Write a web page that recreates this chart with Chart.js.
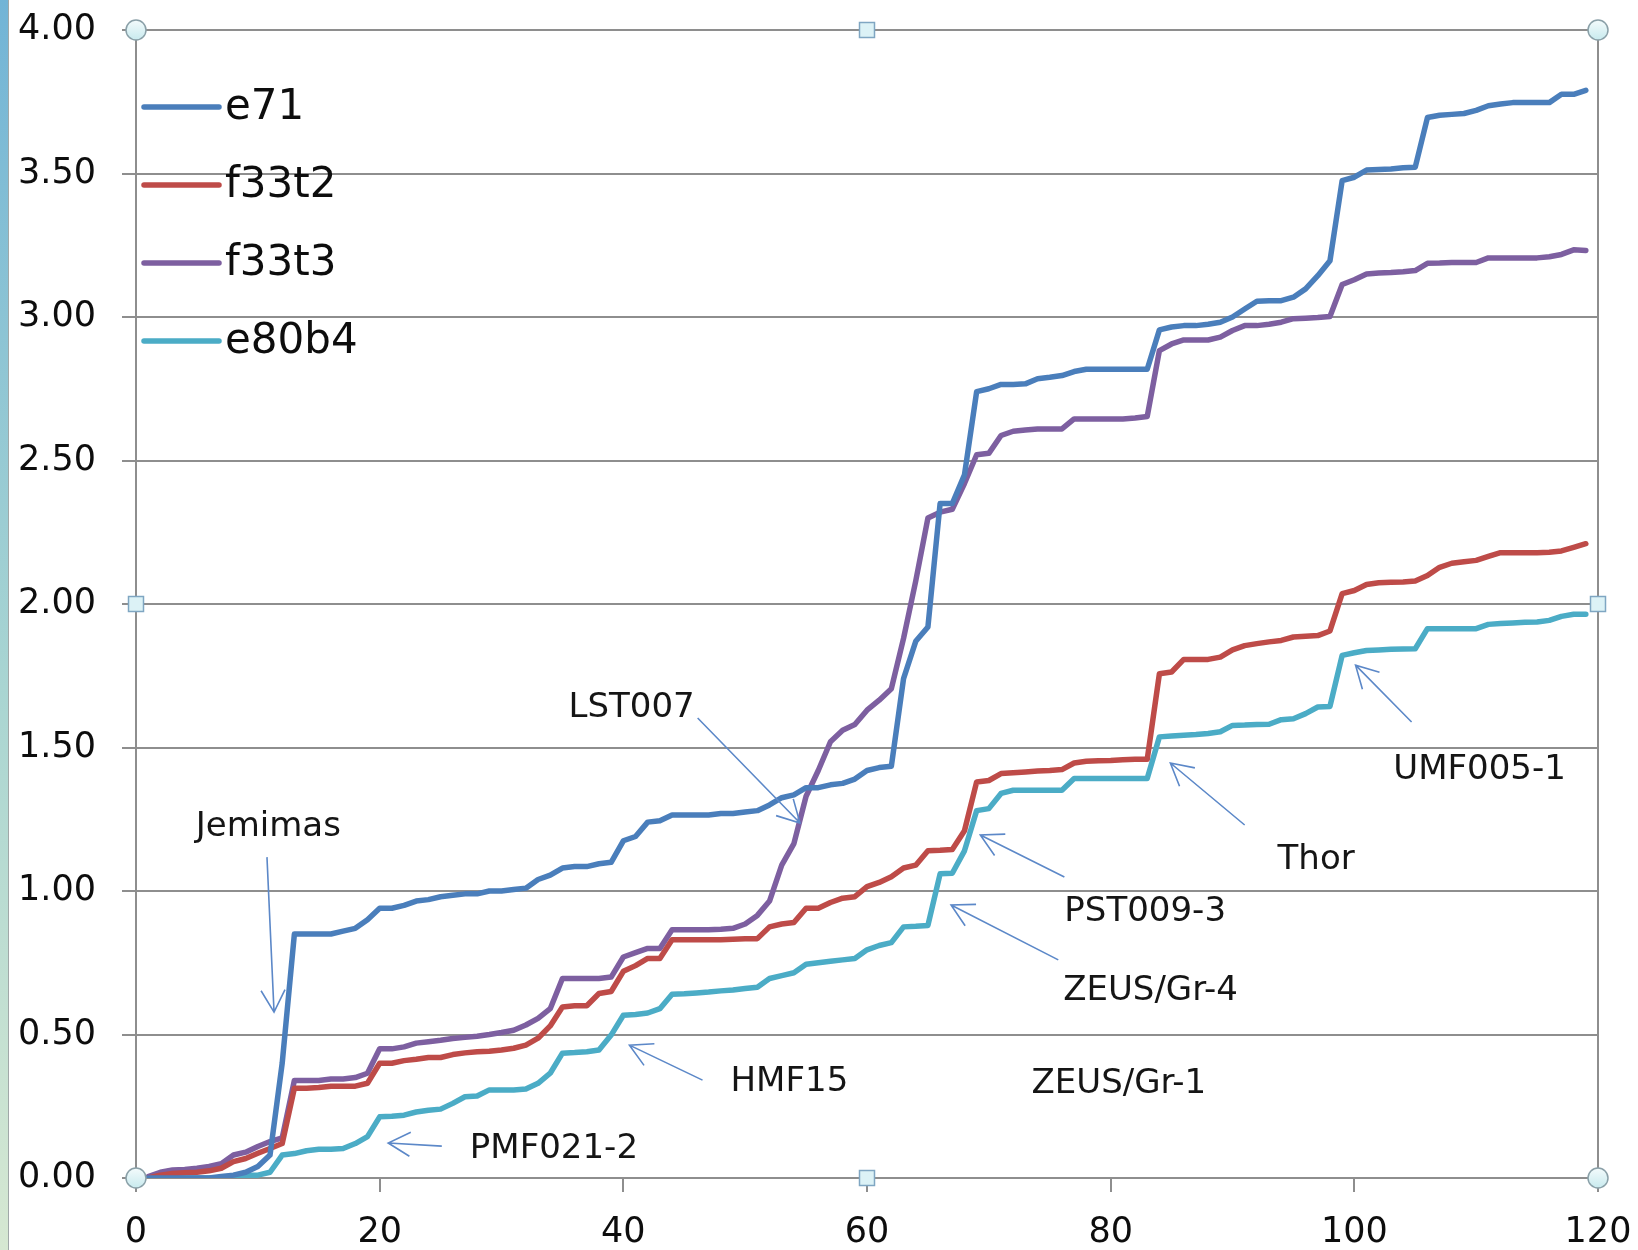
<!DOCTYPE html>
<html>
<head>
<meta charset="utf-8">
<script src="https://cdn.jsdelivr.net/npm/chart.js@4.4.1/dist/chart.umd.min.js"></script>
<style>
    body { margin: 0; background: #fff; }
    .edge {
        position: absolute; left: 0; top: 0; width: 8px; height: 1250px;
        background: linear-gradient(#72b4d6, #a9d5d2 55%, #d6e8d2);
        border-right: 1px solid #a0a8a8;
    }
    #chart { position: absolute; left: 0; top: 0; }
</style>
</head>
<body>
<div class="edge"></div>
<canvas id="chart" width="1638" height="1250"></canvas>
<script>
// --- Données ---
const xSteps = [
    1, 2, 3, 4, 5, 6, 7, 8, 9, 10, 11, 12, 13, 14, 15, 16, 17, 18, 19, 20,
    21, 22, 23, 24, 25, 26, 27, 28, 29, 30, 31, 32, 33, 34, 35, 36, 37, 38, 39, 40,
    41, 42, 43, 44, 45, 46, 47, 48, 49, 50, 51, 52, 53, 54, 55, 56, 57, 58, 59, 60,
    61, 62, 63, 64, 65, 66, 67, 68, 69, 70, 71, 72, 73, 74, 75, 76, 77, 78, 79, 80,
    81, 82, 83, 84, 85, 86, 87, 88, 89, 90, 91, 92, 93, 94, 95, 96, 97, 98, 99, 100,
    101, 102, 103, 104, 105, 106, 107, 108, 109, 110, 111, 112, 113, 114, 115, 116, 117, 118, 119
];

const e71 = [
    0.00, 0.00, 0.00, 0.00, 0.00, 0.00, 0.005, 0.01, 0.02, 0.04, 0.08, 0.40, 0.85, 0.85, 0.85, 0.85, 0.86, 0.87, 0.90, 0.94,
    0.94, 0.95, 0.965, 0.97, 0.98, 0.985, 0.99, 0.99, 1.00, 1.00, 1.005, 1.01, 1.04, 1.055, 1.08, 1.085, 1.085, 1.095, 1.10, 1.175,
    1.19, 1.24, 1.245, 1.265, 1.265, 1.265, 1.265, 1.27, 1.27, 1.275, 1.28, 1.30, 1.325, 1.335, 1.36, 1.36, 1.37, 1.375, 1.39, 1.42,
    1.43, 1.435, 1.74, 1.87, 1.92, 2.35, 2.35, 2.45, 2.74, 2.75, 2.765, 2.765, 2.767, 2.785, 2.79, 2.796, 2.81, 2.818, 2.818, 2.818,
    2.818, 2.818, 2.818, 2.955, 2.965, 2.97, 2.97, 2.975, 2.982, 3.00, 3.028, 3.055, 3.057, 3.057, 3.069, 3.098, 3.144, 3.196, 3.475, 3.487,
    3.512, 3.514, 3.516, 3.52, 3.522, 3.695, 3.703, 3.706, 3.709, 3.72, 3.736, 3.742, 3.747, 3.747, 3.747, 3.747, 3.776, 3.776, 3.79
];

const f33t2 = [
    0.00, 0.01, 0.016, 0.018, 0.02, 0.025, 0.034, 0.057, 0.068, 0.086, 0.103, 0.12, 0.313, 0.313, 0.315, 0.32, 0.32, 0.32, 0.33, 0.40,
    0.40, 0.409, 0.414, 0.42, 0.42, 0.43, 0.436, 0.44, 0.442, 0.446, 0.452, 0.463, 0.487, 0.53, 0.596, 0.60, 0.60, 0.643, 0.65, 0.72,
    0.74, 0.765, 0.765, 0.83, 0.83, 0.83, 0.83, 0.83, 0.832, 0.834, 0.834, 0.875, 0.885, 0.89, 0.94, 0.94, 0.96, 0.975, 0.98, 1.015,
    1.03, 1.05, 1.08, 1.09, 1.14, 1.142, 1.145, 1.21, 1.38, 1.385, 1.409, 1.412, 1.415, 1.418, 1.42, 1.423, 1.446, 1.452, 1.454, 1.455,
    1.457, 1.459, 1.459, 1.757, 1.763, 1.807, 1.807, 1.807, 1.815, 1.84, 1.855, 1.862, 1.868, 1.873, 1.885, 1.888, 1.89, 1.906, 2.036, 2.047,
    2.068, 2.074, 2.076, 2.077, 2.08, 2.099, 2.128, 2.142, 2.147, 2.152, 2.166, 2.179, 2.179, 2.179, 2.179, 2.18, 2.185, 2.197, 2.21
];

const f33t3 = [
    0.005, 0.02, 0.028, 0.03, 0.034, 0.04, 0.05, 0.08, 0.09, 0.11, 0.127, 0.14, 0.34, 0.34, 0.34, 0.345, 0.345, 0.35, 0.365, 0.45,
    0.45, 0.457, 0.47, 0.475, 0.48, 0.486, 0.49, 0.494, 0.50, 0.507, 0.515, 0.533, 0.556, 0.59, 0.695, 0.695, 0.695, 0.695, 0.70, 0.77,
    0.785, 0.80, 0.80, 0.865, 0.865, 0.865, 0.865, 0.867, 0.87, 0.885, 0.915, 0.965, 1.09, 1.165, 1.33, 1.42, 1.52, 1.56, 1.58, 1.63,
    1.665, 1.705, 1.88, 2.08, 2.30, 2.32, 2.33, 2.42, 2.52, 2.525, 2.587, 2.602, 2.606, 2.61, 2.61, 2.61, 2.645, 2.645, 2.645, 2.645,
    2.645, 2.648, 2.653, 2.883, 2.906, 2.92, 2.92, 2.92, 2.93, 2.953, 2.97, 2.97, 2.975, 2.982, 2.994, 2.996, 2.998, 3.002, 3.113, 3.13,
    3.15, 3.153, 3.155, 3.158, 3.162, 3.187, 3.188, 3.19, 3.19, 3.19, 3.206, 3.206, 3.206, 3.206, 3.206, 3.21, 3.218, 3.234, 3.232
];

const e80b4 = [
    0.00, 0.00, 0.00, 0.00, 0.00, 0.00, 0.00, 0.005, 0.01, 0.01, 0.02, 0.08, 0.085, 0.095, 0.10, 0.10, 0.103, 0.12, 0.144, 0.213,
    0.215, 0.219, 0.23, 0.236, 0.24, 0.26, 0.283, 0.286, 0.307, 0.307, 0.307, 0.31, 0.33, 0.365, 0.435, 0.437, 0.44, 0.446, 0.498, 0.567,
    0.57, 0.575, 0.59, 0.64, 0.642, 0.645, 0.648, 0.652, 0.655, 0.66, 0.665, 0.695, 0.705, 0.715, 0.745, 0.75, 0.755, 0.76, 0.765, 0.795,
    0.81, 0.82, 0.875, 0.877, 0.88, 1.06, 1.062, 1.14, 1.28, 1.287, 1.34, 1.351, 1.351, 1.351, 1.351, 1.351, 1.392, 1.392, 1.392, 1.392,
    1.392, 1.392, 1.392, 1.537, 1.54, 1.543, 1.545, 1.549, 1.555, 1.577, 1.578, 1.58, 1.581, 1.597, 1.60, 1.618, 1.641, 1.643, 1.821, 1.83,
    1.838, 1.84, 1.842, 1.843, 1.844, 1.914, 1.914, 1.914, 1.914, 1.914, 1.929, 1.932, 1.934, 1.936, 1.937, 1.943, 1.957, 1.964, 1.964
];

const seriesNames = ['e71', 'f33t2', 'f33t3', 'e80b4'];
const seriesColors = ['#4a7ebb', '#be4b48', '#7d5fa0', '#4bacc6'];
const seriesValues = [e71, f33t2, f33t3, e80b4];

const xTicks = [0, 20, 40, 60, 80, 100, 120];
const yTicks = [0, 0.5, 1, 1.5, 2, 2.5, 3, 3.5, 4];

// Étiquettes (en coordonnées de données) : texte, position du texte, flèche (queue -> pointe)
const notes = [
    { text: 'Jemimas',   x: 4.9,   y: 1.233, arrow: [10.75, 1.118, 11.33, 0.578] },
    { text: 'LST007',    x: 35.5,  y: 1.648, arrow: [46.1, 1.603, 54.5, 1.237] },
    { text: 'HMF15',     x: 48.8,  y: 0.345, arrow: [46.5, 0.341, 40.5, 0.463] },
    { text: 'PMF021-2',  x: 27.4,  y: 0.111, arrow: [25.1, 0.111, 20.7, 0.122] },
    { text: 'PST009-3',  x: 76.2,  y: 0.937, arrow: [76.2, 1.049, 69.3, 1.195] },
    { text: 'ZEUS/Gr-4', x: 76.1,  y: 0.662, arrow: [75.7, 0.76, 66.9, 0.951] },
    { text: 'ZEUS/Gr-1', x: 73.5,  y: 0.338, arrow: null },
    { text: 'Thor',      x: 93.7,  y: 1.118, arrow: [91.0, 1.230, 84.9, 1.446] },
    { text: 'UMF005-1',  x: 103.2, y: 1.432, arrow: [104.7, 1.589, 100.1, 1.787] }
];

const gridGray = '#8e8e8e';
const fontFamily = '"DejaVu Sans", sans-serif';

// --- Plugin : légende, annotations, poignées de sélection ---
const extras = {
    id: 'extras',
    afterDatasetsDraw(chart) {
        const ctx = chart.ctx;
        const xs = chart.scales.x;
        const ys = chart.scales.y;
        const area = chart.chartArea;

        // légende dans la zone du graphique
        ctx.save();
        ctx.font = '42px ' + fontFamily;
        ctx.textBaseline = 'middle';
        ctx.lineCap = 'round';
        seriesNames.forEach((name, i) => {
            const yy = area.top + 77 + i * 78;
            ctx.strokeStyle = seriesColors[i];
            ctx.lineWidth = 5.5;
            ctx.beginPath();
            ctx.moveTo(area.left + 8, yy);
            ctx.lineTo(area.left + 83, yy);
            ctx.stroke();
            ctx.fillStyle = '#0d0d0d';
            ctx.fillText(name, area.left + 89, yy + 1);
        });
        ctx.restore();

        // annotations avec flèches
        ctx.save();
        ctx.font = '34px ' + fontFamily;
        ctx.textBaseline = 'middle';
        ctx.fillStyle = '#151515';
        notes.forEach(n => {
            ctx.fillText(n.text, xs.getPixelForValue(n.x), ys.getPixelForValue(n.y) + 3);
            if (!n.arrow) return;
            const x1 = xs.getPixelForValue(n.arrow[0]);
            const y1 = ys.getPixelForValue(n.arrow[1]);
            const x2 = xs.getPixelForValue(n.arrow[2]);
            const y2 = ys.getPixelForValue(n.arrow[3]);
            const ang = Math.atan2(y1 - y2, x1 - x2);
            const len = 25, spread = 0.5;
            ctx.strokeStyle = '#5c88c8';
            ctx.lineWidth = 1.6;
            ctx.beginPath();
            ctx.moveTo(x1, y1);
            ctx.lineTo(x2, y2);
            ctx.moveTo(x2 + len * Math.cos(ang - spread), y2 + len * Math.sin(ang - spread));
            ctx.lineTo(x2, y2);
            ctx.lineTo(x2 + len * Math.cos(ang + spread), y2 + len * Math.sin(ang + spread));
            ctx.stroke();
        });
        ctx.restore();

        // poignées (cercles aux coins, carrés aux milieux)
        ctx.save();
        ctx.lineWidth = 1.5;
        const corners = [[0, 0], [0, 4], [120, 0], [120, 4]];
        const mids = [[60, 0], [60, 4], [0, 2], [120, 2]];
        corners.forEach(([vx, vy]) => {
            const px = xs.getPixelForValue(vx), py = ys.getPixelForValue(vy);
            const g = ctx.createLinearGradient(px, py - 10, px, py + 10);
            g.addColorStop(0, '#f4fbfc');
            g.addColorStop(1, '#c8eaee');
            ctx.fillStyle = g;
            ctx.strokeStyle = '#8aa0a8';
            ctx.beginPath();
            ctx.arc(px, py, 10, 0, Math.PI * 2);
            ctx.fill();
            ctx.stroke();
        });
        mids.forEach(([vx, vy]) => {
            const px = xs.getPixelForValue(vx), py = ys.getPixelForValue(vy);
            ctx.fillStyle = '#dcf2f6';
            ctx.strokeStyle = '#7fa6c2';
            ctx.fillRect(px - 7.5, py - 7.5, 15, 15);
            ctx.strokeRect(px - 7.5, py - 7.5, 15, 15);
        });
        ctx.restore();
    }
};

new Chart(document.getElementById('chart').getContext('2d'), {
    type: 'line',
    data: {
        datasets: seriesNames.map((name, i) => ({
            label: name,
            data: xSteps.map((x, k) => ({ x: x, y: seriesValues[i][k] })),
            borderColor: seriesColors[i],
            backgroundColor: seriesColors[i],
            borderWidth: 5.5,
            borderJoinStyle: 'round',
            borderCapStyle: 'round',
            pointRadius: 0,
            tension: 0,
            fill: false
        }))
    },
    options: {
        responsive: false,
        animation: false,
        devicePixelRatio: 1,
        layout: { padding: { top: 30, right: 40, left: 0, bottom: 0 } },
        plugins: {
            legend: { display: false },
            tooltip: { enabled: false }
        },
        scales: {
            x: {
                type: 'linear',
                min: 0,
                max: 120,
                afterBuildTicks: scale => { scale.ticks = xTicks.map(v => ({ value: v })); },
                afterFit: scale => {
                    scale.height = 72;
                    scale.paddingLeft = 0;
                    scale.paddingRight = 0;
                },
                ticks: {
                    color: '#0d0d0d',
                    font: { family: fontFamily, size: 35 },
                    padding: 20,
                    maxRotation: 0
                },
                grid: {
                    color: c => (c.tick && c.tick.value === 120) ? gridGray : 'rgba(0,0,0,0)',
                    tickColor: gridGray,
                    lineWidth: 2,
                    tickLength: 14
                },
                border: { color: gridGray, width: 2 }
            },
            y: {
                min: 0,
                max: 4,
                afterBuildTicks: scale => { scale.ticks = yTicks.map(v => ({ value: v })); },
                afterFit: scale => {
                    scale.width = 136;
                    scale.paddingTop = 0;
                    scale.paddingBottom = 0;
                },
                ticks: {
                    color: '#0d0d0d',
                    font: { family: fontFamily, size: 35 },
                    padding: 26,
                    callback: v => v.toFixed(2)
                },
                grid: {
                    color: gridGray,
                    tickColor: gridGray,
                    lineWidth: 2,
                    tickLength: 14
                },
                border: { color: gridGray, width: 2 }
            }
        }
    },
    plugins: [extras]
});
</script>
</body>
</html>
